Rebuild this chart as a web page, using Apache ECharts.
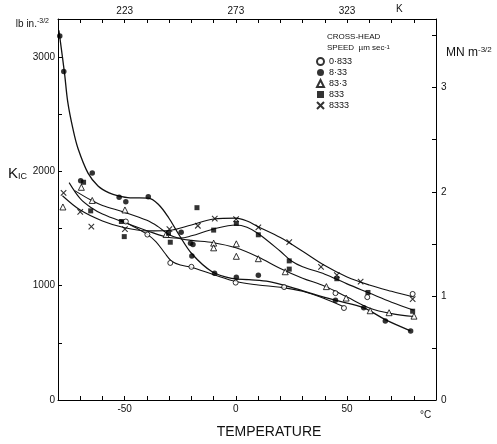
<!DOCTYPE html>
<html><head><meta charset="utf-8">
<script src="https://cdn.jsdelivr.net/npm/echarts@6/dist/echarts.min.js"></script>
<style>html,body{margin:0;padding:0;background:#fff}#c{width:497px;height:444px}</style>
</head><body><div id="c"></div>
<script>
// ---- Data (Temperature °C, K_IC lb in^-3/2) ----
const seriesNames = ['0·833', '8·33', '83·3', '833', '8333'];
const xLabelValues = [-50, 0, 50];            // bottom tick labels (°C)
const kelvinLabels = ['223', '273', '323'];     // top tick labels (K) at the same positions
const leftLabelValues = [0, 1000, 2000, 3000];
const rightLabelValues = [0, 1, 2, 3];
const LB_PER_MN = 910;                          // 1 MN m^-3/2 ≈ 910 lb in^-3/2

// measured points
const p0_833 = [[-49.5,1560],[-39.8,1446],[-29.5,1198],[-20,1164],[-0.1,1026],[21.7,987],[44.8,934],[48.6,804],[59.1,899],[79.5,927]];
const p8_33 = [[-79.2,3181],[-77.4,2871],[-69.8,1916],[-64.6,1983],[-52.5,1773],[-49.5,1733],[-39.4,1776],[-24.6,1466],[-20.4,1371],[-19.3,1359],[-19.8,1259],[-9.6,1108],[0.2,1073],[10.1,1091],[44.8,871],[57.5,806],[67.2,690],[78.6,603]];
const p83_3 = [[-77.8,1687],[-69.5,1859],[-64.6,1744],[-49.9,1661],[-31.4,1446],[-10,1371],[-10,1330],[0.2,1365],[0.2,1256],[10.1,1235],[22.2,1121],[40.7,991],[49.6,891],[60.4,780],[68.9,763],[80.1,733]];
const p833 = [[-68.5,1903],[-65.3,1653],[-51.5,1560],[-50.2,1428],[-30.3,1457],[-29.5,1379],[-17.5,1681],[-10,1485],[0.2,1543],[10.1,1444],[24,1216],[24,1144],[45.4,1060],[59.4,940],[79.5,776]];
const p8333 = [[-77.5,1810],[-70,1644],[-65,1515],[-49.9,1494],[-29.9,1494],[-17.1,1523],[-9.5,1586],[0.1,1580],[10.1,1509],[24,1379],[38.3,1164],[45.4,1092],[56.1,1034],[79.5,882]];

// fitted curves as drawn
const c0_833 = [[-52,1575],[-45,1505],[-40,1450],[-36,1385],[-32,1285],[-29,1215],[-25,1180],[-20,1160],[-10,1095],[0,1035],[10,1005],[20,985],[30,950],[40,885],[48.5,815]];
const c8_33 = [[-79.6,3230],[-77.1,2862],[-75.6,2603],[-73.3,2371],[-71,2198],[-66.5,1983],[-62,1871],[-57,1810],[-52.9,1784],[-47.6,1767],[-39.4,1765],[-34.8,1709],[-30.3,1595],[-25.8,1451],[-19.8,1278],[-10.7,1121],[-1.8,1063],[5.9,1052],[15,1035],[25,985],[35,925],[45,870],[57.5,805],[67.4,700],[78.5,605]];
const c83_3 = [[-72.5,1830],[-65,1745],[-60,1700],[-50,1640],[-40,1570],[-35,1515],[-30,1445],[-25,1410],[-20,1395],[-10,1375],[0,1330],[10,1250],[20,1150],[30,1065],[40,995],[50,900],[60,805],[70,755],[80,730]];
const c833 = [[-75,1900],[-70,1760],[-65,1680],[-60,1625],[-50,1550],[-40,1480],[-30,1420],[-25,1415],[-20,1435],[-10,1495],[0,1530],[5,1510],[10,1455],[20,1300],[25,1215],[30,1165],[40,1100],[50,1015],[60,935],[70,855],[80,785]];
const c8333 = [[-78,1785],[-70,1660],[-60,1565],[-50,1505],[-40,1478],[-30,1482],[-20,1530],[-10,1582],[0,1590],[5,1565],[10,1515],[20,1420],[30,1300],[40,1175],[50,1075],[60,1005],[70,950],[80,900]];

const FONT = 'Liberation Sans';
const X_MIN = -80, X_MAX = 90, Y_MAX = 3330;

const points = [p0_833, p8_33, p83_3, p833, p8333];
const curves = [c0_833, c8_33, c83_3, c833, c8333];
const symbols = [
  {symbol:'circle', size:5, style:{color:'#fff', borderColor:'#000', borderWidth:1}},
  {symbol:'circle', size:5.5, style:{color:'#000'}},
  {symbol:'triangle', size:6, style:{color:'#fff', borderColor:'#000', borderWidth:1}},
  {symbol:'rect', size:5, style:{color:'#000'}},
  {symbol:'path://M0,0L10,10M10,0L0,10', size:5.5, style:{color:'rgba(0,0,0,0)', borderColor:'#000', borderWidth:1.1}}
];

const series = [];
curves.forEach((c, i) => {
  series.push({type:'line', data:c, smooth:0.35, showSymbol:false, silent:true, z:2,
    lineStyle:{color:'#111', width: i===1 ? 1.3 : 1.1}});
});
points.forEach((p, i) => {
  series.push({name:seriesNames[i], type:'scatter', data:p, symbol:symbols[i].symbol,
    symbolSize:symbols[i].size, itemStyle:symbols[i].style, z:5});
});

const axisLine = {show:true, onZero:false, lineStyle:{color:'#000', width:1}};
const tick = {show:true, inside:true, length:4, lineStyle:{color:'#000', width:1}};
const lab = {fontFamily:FONT, fontSize:10, color:'#111'};

const chart = echarts.init(document.getElementById('c'), null, {renderer:'canvas'});
chart.setOption({
  animation:false,
  backgroundColor:'#fff',
  grid:{left:58, right:61, top:19, bottom:39},
  xAxis:[
    {type:'value', position:'bottom', min:X_MIN, max:X_MAX, interval:10, axisLine, axisTick:tick, splitLine:{show:false},
     axisLabel:Object.assign({margin:4, formatter:v => xLabelValues.includes(v) ? String(v) : ''}, lab),
     name:'TEMPERATURE', nameLocation:'middle', nameGap:25,
     nameTextStyle:{fontFamily:FONT, fontSize:14, color:'#111', padding:[0,0,0,44]}},
    {type:'value', position:'top', min:X_MIN, max:X_MAX, interval:10, axisLine, axisTick:tick, splitLine:{show:false},
     axisLabel:Object.assign({margin:3, formatter:v => { const k = xLabelValues.indexOf(v); return k>=0 ? kelvinLabels[k] : ''; }}, lab)}
  ],
  yAxis:[
    {type:'value', position:'left', min:0, max:Y_MAX, interval:500, axisLine, axisTick:tick, splitLine:{show:false},
     axisLabel:Object.assign({margin:3, formatter:v => leftLabelValues.includes(v) ? String(v) : ''}, lab),
     name:'{a|lb in.}{s|-3/2}', nameLocation:'end', nameGap:-12,
     nameTextStyle:{align:'right', padding:[0,9,0,0], rich:{a:{fontFamily:FONT, fontSize:10, color:'#111'}, s:{fontFamily:FONT, fontSize:7, color:'#111', verticalAlign:'top', padding:[0,0,6,0]}}}},
    {type:'value', position:'right', min:0, max:Y_MAX/LB_PER_MN, interval:0.5, axisLine, axisTick:tick, splitLine:{show:false},
     axisLabel:Object.assign({margin:5, formatter:v => rightLabelValues.includes(v) ? String(v) : ''}, lab)}
  ],
  legend:{data:seriesNames, orient:'vertical', left:316, top:57, itemWidth:7, itemHeight:7, itemGap:2,
    textStyle:{fontFamily:FONT, fontSize:9, color:'#111'}, padding:0, selectedMode:false},
  graphic:[
    {type:'text', left:327, top:33, style:{text:'CROSS-HEAD', font:'8px "Liberation Sans"', fill:'#111'}},
    {type:'text', left:327, top:44, style:{text:'{a|SPEED  µm sec}{s|-1}', rich:{a:{font:'8px "Liberation Sans"', fill:'#111'}, s:{font:'6px "Liberation Sans"', fill:'#111', verticalAlign:'top'}}}},
    {type:'text', left:8, top:166, style:{text:'{k|K}{s|IC}', rich:{k:{font:'15px "Liberation Sans"', fill:'#111'}, s:{font:'9px "Liberation Sans"', fill:'#111', padding:[6,0,0,0]}}}},
    {type:'text', left:446, top:46, style:{text:'{a|MN m}{s|-3/2}', rich:{a:{font:'12px "Liberation Sans"', fill:'#111'}, s:{font:'8px "Liberation Sans"', fill:'#111', padding:[0,0,6,0]}}}},
    {type:'text', left:420, top:410, style:{text:'°C', font:'10px "Liberation Sans"', fill:'#111'}},
    {type:'text', left:396, top:4, style:{text:'K', font:'10px "Liberation Sans"', fill:'#111'}}
  ],
  series
});
</script></body></html>
